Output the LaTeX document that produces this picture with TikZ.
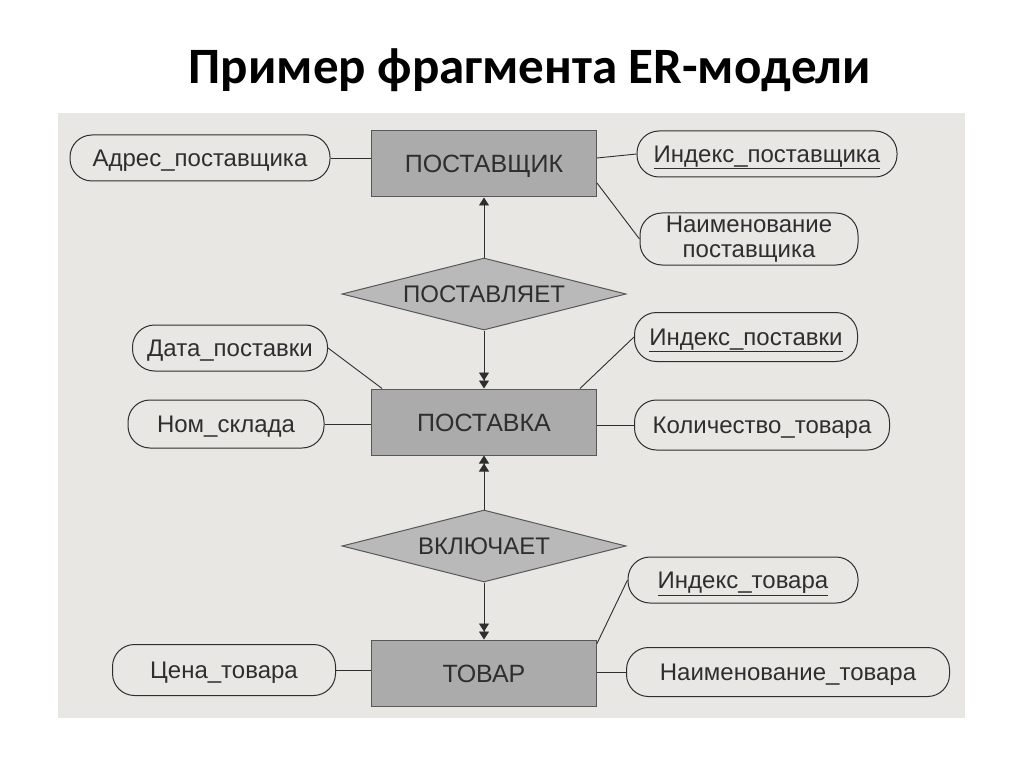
\documentclass[tikz,border=0pt]{standalone}
\usepackage{fontspec}
\setmainfont{Liberation Sans}
\newfontfamily\titlefont{Carlito}
\usetikzlibrary{arrows.meta,shapes.geometric}
\definecolor{scanbg}{HTML}{E9E7E4}
\definecolor{entfill}{HTML}{ABABAB}
\definecolor{relfill}{HTML}{B9B9B9}
\definecolor{inkc}{HTML}{2E2E2E}
\begin{document}
\begin{tikzpicture}[x=1pt,y=-1pt,
  attr/.style={draw=inkc, line width=1pt, fill=scanbg, rounded corners=22pt,
    minimum height=46pt, inner sep=0pt, text=inkc, font=\fontsize{24}{27}\selectfont, align=center},
  oneline/.style={text height=17pt, text depth=0pt},
  entity/.style={draw=inkc!80, line width=1pt, fill=entfill, minimum width=225pt,
    minimum height=66pt, inner sep=0pt, text=inkc, font=\fontsize{25}{28}\selectfont,
    text height=18pt, text depth=0pt},
  rel/.style={diamond, draw=inkc!80, line width=1pt, fill=relfill, aspect=3.9,
    minimum width=284pt, minimum height=72pt, inner sep=0pt, text=inkc,
    font=\fontsize{24}{27}\selectfont, text height=17pt, text depth=0pt},
  conn/.style={draw=inkc, line width=0.9pt},
  arrone/.style={conn, -{Triangle[length=8pt,width=10pt]}},
  arrtwo/.style={conn, -{Triangle[length=8pt,width=10pt]Triangle[length=8pt,width=10pt]}}
]
\useasboundingbox (0,0) rectangle (1024,767);
\fill[white] (0,0) rectangle (1024,767);
\fill[scanbg] (58,113) rectangle (965,718);
\node[font=\titlefont\bfseries\fontsize{51}{56}\selectfont] (title) at (530,70) {Пример фрагмента ER-модели};

% entities
\node[entity] (supplier) at (484,164) {ПОСТАВЩИК};
\node[entity] (delivery) at (484,422) {ПОСТАВКА};
\node[entity] (goods) at (484,673) {ТОВАР};

% relationships
\node[rel] (supplies) at (484,294) {ПОСТАВЛЯЕТ};
\node[rel] (includes) at (484,546) {ВКЛЮЧАЕТ};

% attributes
\node[attr, oneline, minimum width=260pt] (addr) at (200,158) {Адрес\_поставщика};
\node[attr, oneline, minimum width=260pt] (sidx) at (767,154) {\underline{Индекс\_поставщика}};
\node[attr, minimum width=218pt, minimum height=52pt, font=\fontsize{24}{25}\selectfont] (sname) at (749,239) {Наименование\\поставщика};
\node[attr, oneline, minimum width=195pt] (ddate) at (230,348) {Дата\_поставки};
\node[attr, oneline, minimum width=223pt, minimum height=49pt] (didx) at (746,337) {\underline{Индекс\_поставки}};
\node[attr, oneline, minimum width=196pt, minimum height=48pt] (store) at (226,424) {Ном\_склада};
\node[attr, oneline, minimum width=255pt, minimum height=50pt] (qty) at (762,425) {Количество\_товара};
\node[attr, oneline, minimum width=230pt] (gidx) at (743,580) {\underline{Индекс\_товара}};
\node[attr, oneline, minimum width=223pt, minimum height=51pt] (price) at (224,670) {Цена\_товара};
\node[attr, oneline, minimum width=323pt, minimum height=49pt] (gname) at (788,672) {Наименование\_товара};

% connectors
\draw[conn] (addr.east) -- (addr.east -| supplier.west);
\draw[conn] ([yshift=6pt]supplier.east) -- (sidx.west);
\draw[conn] ([yshift=-19pt]supplier.east) -- (sname.west);
\draw[arrone] (supplies.north) -- (supplier.south);
\draw[arrtwo] (supplies.south) -- (delivery.north);
\draw[conn] (ddate.east) -- ([xshift=11pt]delivery.north west);
\draw[conn] (didx.west) -- ([xshift=-17pt]delivery.north east);
\draw[conn] (store.east) -- (store.east -| delivery.west);
\draw[conn] (delivery.east |- qty.west) -- (qty.west);
\draw[arrtwo] (includes.north) -- (delivery.south);
\draw[arrtwo] (includes.south) -- (goods.north);
\draw[conn] (gidx.west) -- ([yshift=-4pt]goods.north east);
\draw[conn] (price.east) -- (price.east -| goods.west);
\draw[conn] (goods.east |- gname.west) -- (gname.west);
\end{tikzpicture}
\end{document}
